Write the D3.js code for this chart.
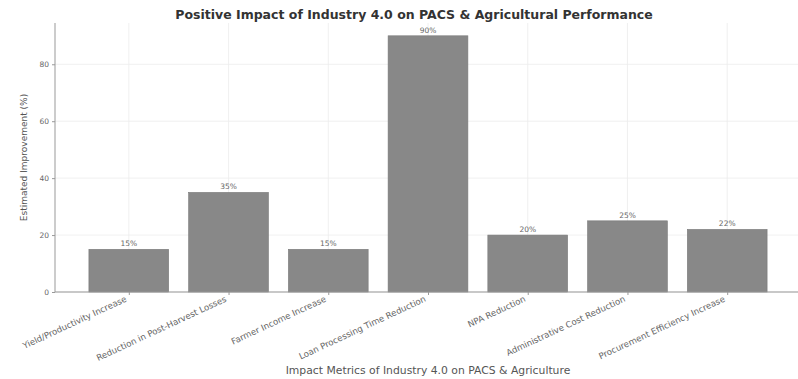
<!DOCTYPE html>
<html>
<head>
<meta charset="utf-8">
<script src="https://cdn.jsdelivr.net/npm/d3@7"></script>
<style>
  html, body { margin: 0; padding: 0; background: #ffffff; }
  svg { display: block; font-family: "DejaVu Sans", sans-serif; }
</style>
</head>
<body>
<svg id="chart" width="798" height="379"></svg>
<script>
// Impact metrics and their estimated improvement (%)
const categories = [
  "Yield/Productivity Increase",
  "Reduction in Post-Harvest Losses",
  "Farmer Income Increase",
  "Loan Processing Time Reduction",
  "NPA Reduction",
  "Administrative Cost Reduction",
  "Procurement Efficiency Increase"
];
const improvement = [15, 35, 15, 90, 20, 25, 22];
const yTicks = [0, 20, 40, 60, 80];

const titleText = "Positive Impact of Industry 4.0 on PACS & Agricultural Performance";
const xTitle = "Impact Metrics of Industry 4.0 on PACS & Agriculture";
const yTitle = "Estimated Improvement (%)";

const svg = d3.select("#chart");
const margin = { left: 55, right: -3, top: 23, bottom: 87 };
const W = 798, H = 379;
const plotL = margin.left, plotR = W - margin.right;
const plotT = margin.top, plotB = H - margin.bottom;

// Category positions with a small margin on each side of the bars
const n = categories.length;
const x = d3.scaleLinear()
  .domain([-0.4 - 0.05 * (n - 0.2), (n - 1) + 0.4 + 0.05 * (n - 0.2)])
  .range([plotL, plotR]);
const barW = x(0.8) - x(0);

const yMax = d3.max(improvement) * 1.05;
const y = d3.scaleLinear().domain([0, yMax]).range([plotB, plotT]);

const g = svg.append("g");

// Light grid lines
g.append("g").selectAll("line.hgrid")
  .data(yTicks).join("line")
  .attr("x1", plotL).attr("x2", plotR)
  .attr("y1", d => y(d)).attr("y2", d => y(d))
  .attr("stroke", "#ececec").attr("stroke-width", 0.8);
g.append("g").selectAll("line.vgrid")
  .data(categories).join("line")
  .attr("x1", (d, i) => x(i)).attr("x2", (d, i) => x(i))
  .attr("y1", plotT).attr("y2", plotB)
  .attr("stroke", "#ececec").attr("stroke-width", 0.8);

// Bars
g.append("g").selectAll("rect")
  .data(improvement).join("rect")
  .attr("x", (d, i) => x(i) - barW / 2)
  .attr("width", barW)
  .attr("y", d => y(d))
  .attr("height", d => plotB - y(d))
  .attr("fill", "#888888")
  .attr("stroke", "#7a7a7a")
  .attr("stroke-width", 0.6);

// Value labels
g.append("g").selectAll("text")
  .data(improvement).join("text")
  .attr("x", (d, i) => x(i))
  .attr("y", d => y(d) - 3)
  .attr("text-anchor", "middle")
  .attr("font-size", 7.5)
  .attr("fill", "#666")
  .text(d => d + "%");

// Y axis
const yAxis = d3.axisLeft(y).tickValues(yTicks).tickSize(3).tickPadding(3);
const ya = g.append("g").attr("transform", `translate(${plotL},0)`).call(yAxis);
ya.select(".domain").attr("stroke", "#999").attr("d", `M0,${plotT}V${plotB}`);
ya.selectAll(".tick line").attr("stroke", "#999");
ya.selectAll(".tick text").attr("font-size", 7.5).attr("fill", "#666")
  .attr("font-family", "DejaVu Sans");

// X axis
const xAxis = d3.axisBottom(x).tickValues(d3.range(n)).tickSize(3).tickFormat(i => categories[i]);
const xa = g.append("g").attr("transform", `translate(0,${plotB})`).call(xAxis);
xa.select(".domain").attr("stroke", "#999").attr("d", `M${plotL},0H${plotR}`);
xa.selectAll(".tick line").attr("stroke", "#999");
xa.selectAll(".tick text")
  .attr("font-size", 8.6).attr("fill", "#666").attr("font-family", "DejaVu Sans")
  .attr("text-anchor", "end")
  .attr("x", 0).attr("y", 0).attr("dy", 0)
  .attr("transform", "translate(-2,9) rotate(-25)");

// Titles
svg.append("text")
  .attr("x", 414).attr("y", 19)
  .attr("text-anchor", "middle")
  .attr("font-size", 12.5).attr("font-weight", "bold").attr("fill", "#333")
  .text(titleText);

svg.append("text")
  .attr("x", 428).attr("y", 374)
  .attr("text-anchor", "middle")
  .attr("font-size", 10.8).attr("fill", "#555")
  .text(xTitle);

svg.append("text")
  .attr("transform", `translate(27,${(plotT + plotB) / 2}) rotate(-90)`)
  .attr("text-anchor", "middle")
  .attr("font-size", 9).attr("fill", "#555")
  .text(yTitle);
</script>
</body>
</html>
